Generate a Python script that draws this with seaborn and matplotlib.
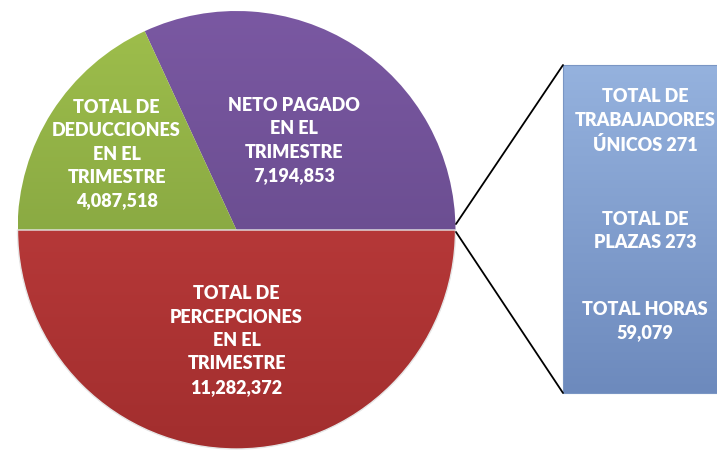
import numpy as np
import matplotlib.pyplot as plt
import seaborn as sns
from matplotlib.colors import LinearSegmentedColormap
from matplotlib.patches import Rectangle

# Datos del trimestre
conceptos = ['TOTAL DE\nPERCEPCIONES\nEN EL\nTRIMESTRE',
             'NETO PAGADO\nEN EL\nTRIMESTRE',
             'TOTAL DE\nDEDUCCIONES\nEN EL\nTRIMESTRE']
montos = [11282372, 7194853, 4087518]
# colores (abajo, arriba) para el degradado de cada rebanada
colores_abajo = ['#a22e2e', '#5e4582', '#76953a']
colores_arriba = ['#c94242', '#7a58a2', '#9fbf4c']

resumen = ['TOTAL DE\nTRABAJADORES\nÚNICOS 271',
           'TOTAL DE\nPLAZAS 273',
           'TOTAL HORAS\n59,079']

sns.set_theme(style='white')
plt.rcParams['font.family'] = ['Lato', 'DejaVu Sans']

fig = plt.figure(figsize=(7.17, 4.56), dpi=100)
ax = fig.add_axes([0, 0, 1, 1])

cx, cy, r = 236.5, 225, 219
wedges, _ = ax.pie(montos, startangle=180, counterclock=True,
                   center=(cx, cy), radius=r,
                   colors=colores_arriba,
                   wedgeprops=dict(linewidth=0))

grad = np.linspace(0, 1, 256).reshape(-1, 1)
for w, c0, c1 in zip(wedges, colores_abajo, colores_arriba):
    cmap = LinearSegmentedColormap.from_list('g', [c0, c1])
    im = ax.imshow(grad, extent=[cx - r, cx + r, cy - r, cy + r],
                   origin='lower', cmap=cmap, aspect='auto', zorder=1)
    im.set_clip_path(w)
    w.set_facecolor('none')
    w.set_zorder(2)

# linea clara sobre la rebanada roja
wedges[0].set_edgecolor('#e6e6e6')
wedges[0].set_linewidth(1.0)

dist = [0.5, 0.49, 0.65]
for w, txt, m, d in zip(wedges, conceptos, montos, dist):
    th = np.deg2rad((w.theta1 + w.theta2) / 2)
    ax.text(cx + d * r * np.cos(th), cy + d * r * np.sin(th),
            f'{txt}\n{m:,}', ha='center', va='center', color='white',
            fontsize=13, fontweight='heavy', linespacing=1.45, zorder=3)

# caja de resumen
bx0, bx1, by0, by1 = 563, 720, 62, 390
cmap_box = LinearSegmentedColormap.from_list('b', ['#6d8abd', '#95b2de'])
rect = Rectangle((bx0, by0), bx1 - bx0, by1 - by0, facecolor='none',
                 edgecolor='#7a96c4', linewidth=0.8, zorder=3)
ax.add_patch(rect)
imb = ax.imshow(grad, extent=[bx0, bx1, by0, by1], origin='lower',
                cmap=cmap_box, aspect='auto', zorder=2)
imb.set_clip_path(rect)

ax.plot([456, bx0], [231, by1], color='black', linewidth=1.3, zorder=4)
ax.plot([456, bx0], [223, by0], color='black', linewidth=1.3, zorder=4)

for txt, yy in zip(resumen, [335, 225, 135]):
    ax.text(645, yy, txt, ha='center', va='center', color='white',
            fontsize=13, fontweight='heavy', linespacing=1.45, zorder=5)

ax.set_xlim(0, 717)
ax.set_ylim(0, 456)
ax.set_aspect('auto')
ax.axis('off')

fig.savefig('out.png', dpi=100)
